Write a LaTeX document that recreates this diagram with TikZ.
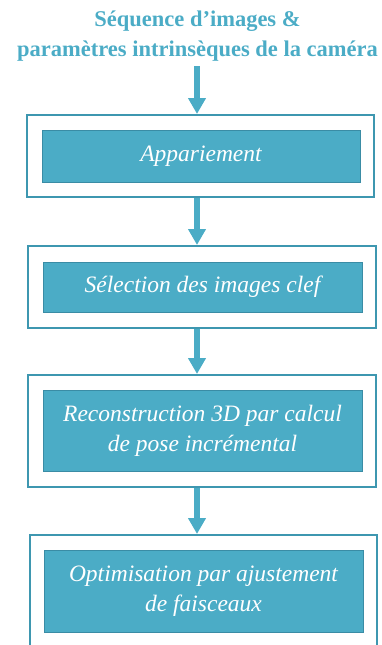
\documentclass[tikz,border=0pt]{standalone}
\usepackage{fontspec}
\setmainfont{Liberation Serif}
\usetikzlibrary{arrows.meta}
\definecolor{teal1}{HTML}{4BACC6}
\definecolor{tealline}{HTML}{3E97B0}
\definecolor{tealdark}{HTML}{3A8CA5}
\tikzset{
  outerbox/.style={draw=tealline, line width=2pt, fill=white, inner sep=0pt},
  innerbox/.style={draw=tealdark, line width=0.8pt, fill=teal1, text=white, inner sep=0pt, align=center,
    font=\fontsize{23.5}{30}\selectfont\itshape},
  flow/.style={draw=teal1, line width=5.5pt, -{Triangle[width=17pt,length=16pt]}},
  titlestyle/.style={text=teal1, font=\fontsize{22.5}{30}\selectfont\bfseries, align=center}
}
\begin{document}
\begin{tikzpicture}[x=1pt,y=-1pt]
\clip (0,0) rectangle (382,645);
\useasboundingbox (0,0) rectangle (382,645);
\node[titlestyle] (title) at (197.5,36) {Séquence d’images \&\\paramètres intrinsèques de la caméra};
% stage 1
\node[outerbox, minimum width=347pt, minimum height=82pt] (o1) at (200.5,156) {};
\node[innerbox, minimum width=318pt, minimum height=52pt] (i1) at (201,156) {Appariement};
% stage 2
\node[outerbox, minimum width=348pt, minimum height=82pt] (o2) at (202,287) {};
\node[innerbox, minimum width=319pt, minimum height=50pt] (i2) at (202.5,287) {Sélection des images clef};
% stage 3
\node[outerbox, minimum width=348pt, minimum height=112pt] (o3) at (202,431) {};
\node[innerbox, minimum width=319pt, minimum height=81pt] (i3) at (202.5,431) {Reconstruction 3D par calcul\\de pose incrémental};
% stage 4
\node[outerbox, minimum width=347pt, minimum height=130pt] (o4) at (203,600) {};
\node[innerbox, minimum width=319pt, minimum height=82pt] (i4) at (203.5,591) {Optimisation par ajustement\\de faisceaux};
% arrows
\coordinate (a0) at (197,66);
\draw[flow] (a0) -- (a0 |- o1.north);
\draw[flow] (o1.south -| a0) -- (a0 |- o2.north);
\draw[flow] (o2.south -| a0) -- (a0 |- o3.north);
\draw[flow] (o3.south -| a0) -- (a0 |- o4.north);
\end{tikzpicture}
\end{document}
